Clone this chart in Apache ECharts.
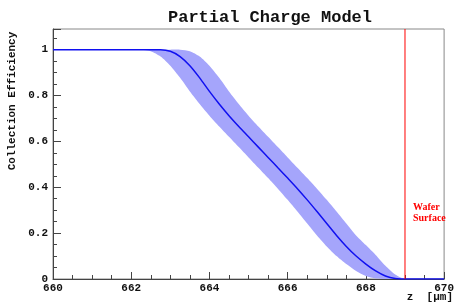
<!DOCTYPE html>
<html>
<head>
<meta charset="utf-8">
<script src="https://cdn.jsdelivr.net/npm/echarts@6/dist/echarts.min.js"></script>
<style>
  html, body { margin: 0; padding: 0; background: #fff; }
  #chart { width: 457px; height: 303px; }
</style>
</head>
<body>
<div id="chart"></div>
<script>
// depth z in um
const zValues = [660, 661, 662, 662.25, 662.5, 662.75, 663, 663.25, 663.5, 663.75,
  664, 664.25, 664.5, 664.75, 665, 665.25, 665.5, 665.75, 666, 666.25,
  666.5, 666.75, 667, 667.25, 667.5, 667.75, 668, 668.25, 668.5, 668.75,
  669, 669.25, 670]

const efficiency = [1, 1, 1, 1, 1, 1, 0.993, 0.97, 0.93, 0.877,
  0.818, 0.763, 0.712, 0.665, 0.62, 0.575, 0.53, 0.485, 0.44, 0.394,
  0.345, 0.294, 0.242, 0.19, 0.142, 0.10, 0.065, 0.035, 0.013, 0.002,
  0, 0, 0]

const bandLow = [1, 1, 1, 1, 0.993, 0.97, 0.93, 0.877, 0.818, 0.763,
  0.712, 0.665, 0.62, 0.575, 0.53, 0.485, 0.44, 0.394, 0.345, 0.294,
  0.242, 0.19, 0.142, 0.10, 0.065, 0.035, 0.013, 0.002, 0, 0,
  0, 0, 0]

const bandHigh = [1, 1, 1, 1, 1, 1, 1, 1, 0.993, 0.97,
  0.93, 0.877, 0.818, 0.763, 0.712, 0.665, 0.62, 0.575, 0.53, 0.485,
  0.44, 0.394, 0.345, 0.294, 0.242, 0.19, 0.148, 0.105, 0.058, 0.02,
  0, 0, 0]

const waferSurface = 669
const xTicks = { min: 660, max: 670, interval: 2 }
const yTicks = { min: 0, max: 1.09, interval: 0.2 }

const mono = '"Liberation Mono", "DejaVu Sans Mono", monospace'

const chart = echarts.init(document.getElementById('chart'))

// filled band between the low and high edges
function renderBand(params, api) {
  const top = zValues.map((z, i) => api.coord([z, bandHigh[i]]))
  const bottom = zValues.map((z, i) => api.coord([z, bandLow[i]])).reverse()
  return {
    type: 'polygon',
    shape: { points: top.concat(bottom), smooth: 0.25 },
    style: { fill: '#a5a5fb', stroke: null },
    silent: true,
  }
}

chart.setOption({
  animation: false,
  title: {
    text: 'Partial Charge Model',
    left: 265,
    textAlign: 'center',
    top: 4,
    textStyle: { fontFamily: mono, fontWeight: 'bold', fontSize: 17, color: '#111' },
  },
  grid: {
    left: 53, right: 4, top: 29, bottom: 24,
    show: true, borderColor: '#888', borderWidth: 1,
  },
  xAxis: {
    type: 'value',
    min: xTicks.min, max: xTicks.max, interval: xTicks.interval,
    axisLine: { lineStyle: { color: '#444', width: 1 } },
    axisTick: { inside: true, length: 7, lineStyle: { color: '#444' } },
    minorTick: { show: true, splitNumber: 4, length: 4, lineStyle: { color: '#444' } },
    splitLine: { show: false },
    axisLabel: { fontFamily: mono, fontWeight: 'bold', fontSize: 11, color: '#111', margin: 4 },
  },
  yAxis: {
    type: 'value',
    min: yTicks.min, max: yTicks.max, interval: yTicks.interval,
    axisLine: { show: true, lineStyle: { color: '#444', width: 1 } },
    axisTick: { show: true, inside: true, length: 8, lineStyle: { color: '#444' } },
    minorTick: { show: true, splitNumber: 4, length: 4, lineStyle: { color: '#444' } },
    splitLine: { show: false },
    axisLabel: {
      fontFamily: mono, fontWeight: 'bold', fontSize: 11, color: '#111', margin: 5,
      showMaxLabel: false,
    },
  },
  series: [
    {
      type: 'custom',
      renderItem: renderBand,
      data: [[zValues[0], 0]],
      clip: true,
      silent: true,
      z: 1,
    },
    {
      type: 'line',
      data: zValues.map((z, i) => [z, efficiency[i]]),
      symbol: 'none',
      smooth: 0.3,
      lineStyle: { color: '#1010f0', width: 1.5 },
      z: 3,
    },
    {
      type: 'line',
      data: [[waferSurface, yTicks.min], [waferSurface, yTicks.max]],
      symbol: 'none',
      lineStyle: { color: '#ff0000', width: 1 },
      silent: true,
      z: 4,
    },
  ],
  graphic: [
    {
      type: 'text',
      x: 12, y: 101,
      rotation: Math.PI / 2,
      style: {
        text: 'Collection Efficiency',
        font: 'bold 11px ' + mono,
        fill: '#111',
        align: 'center',
        verticalAlign: 'middle',
      },
    },
    {
      type: 'text',
      right: 4, bottom: 0,
      style: { text: 'z  [μm]', font: 'bold 11px ' + mono, fill: '#111' },
    },
    {
      type: 'text',
      left: 413, top: 202,
      style: {
        text: 'Wafer\nSurface',
        font: 'bold 10px "Liberation Serif", serif',
        fill: '#ff0000',
        lineHeight: 11,
      },
    },
  ],
})
</script>
</body>
</html>
